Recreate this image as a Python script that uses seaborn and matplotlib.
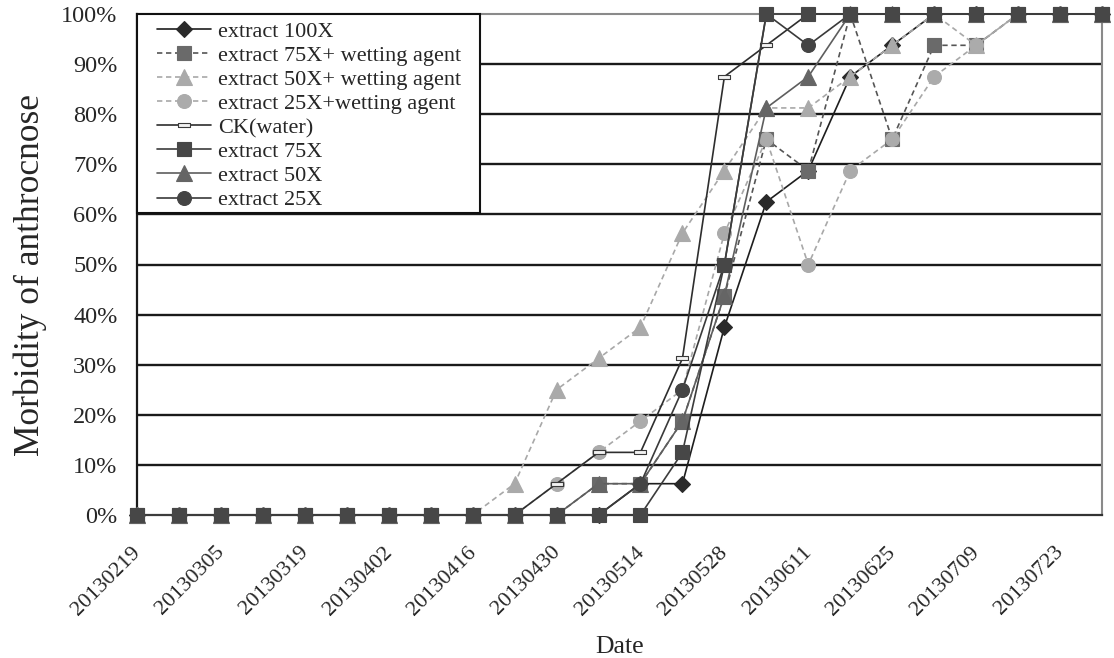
import matplotlib
matplotlib.use("Agg")
import matplotlib.pyplot as plt
import matplotlib.transforms as mtransforms
from matplotlib.patches import Rectangle
import seaborn as sns

# Weekly sampling dates
dates = ["20130219", "20130226", "20130305", "20130312", "20130319", "20130326",
         "20130402", "20130409", "20130416", "20130423", "20130430", "20130507",
         "20130514", "20130521", "20130528", "20130604", "20130611", "20130618",
         "20130625", "20130702", "20130709", "20130716", "20130723", "20130730"]

series_names = ["extract 100X", "extract 75X+ wetting agent", "extract 50X+ wetting agent",
                "extract 25X+wetting agent", "CK(water)", "extract 75X", "extract 50X",
                "extract 25X"]

# Morbidity (%) per treatment
ext100 = [0, 0, 0, 0, 0, 0, 0, 0, 0, 0, 0, 0, 6.25, 6.25, 37.5, 62.5, 68.75, 87.5,
          93.75, 100, 100, 100, 100, 100]
ext75_wet = [0, 0, 0, 0, 0, 0, 0, 0, 0, 0, 0, 6.25, 6.25, 18.75, 43.75, 75, 68.75, 100,
             75, 93.75, 93.75, 100, 100, 100]
ext50_wet = [0, 0, 0, 0, 0, 0, 0, 0, 0, 6.25, 25, 31.25, 37.5, 56.25, 68.75, 81.25, 81.25,
             87.5, 93.75, 100, 93.75, 100, 100, 100]
ext25_wet = [0, 0, 0, 0, 0, 0, 0, 0, 0, 0, 6.25, 12.5, 18.75, 25, 56.25, 75, 50, 68.75,
             75, 87.5, 93.75, 100, 100, 100]
ck_water = [0, 0, 0, 0, 0, 0, 0, 0, 0, 0, 6.25, 12.5, 12.5, 31.25, 87.5, 93.75, 100, 100,
            100, 100, 100, 100, 100, 100]
ext75 = [0, 0, 0, 0, 0, 0, 0, 0, 0, 0, 0, 0, 0, 12.5, 50, 100, 100, 100, 100, 100, 100,
         100, 100, 100]
ext50 = [0, 0, 0, 0, 0, 0, 0, 0, 0, 0, 0, 6.25, 6.25, 18.75, 43.75, 81.25, 87.5, 100,
         100, 100, 100, 100, 100, 100]
ext25 = [0, 0, 0, 0, 0, 0, 0, 0, 0, 0, 0, 0, 6.25, 25, 50, 100, 93.75, 100, 100, 100,
         100, 100, 100, 100]

all_values = [ext100, ext75_wet, ext50_wet, ext25_wet, ck_water, ext75, ext50, ext25]

sns.set_style("white")
plt.rcParams["font.family"] = ["Liberation Serif", "DejaVu Serif"]

DASH = (0, (3.2, 2.2))
rect_marker = [(-1.0, -0.38), (1.0, -0.38), (1.0, 0.38), (-1.0, 0.38), (-1.0, -0.38)]

styles = [
    dict(color="#1e1e1e", linestyle="-", marker="D", markersize=8,
         markerfacecolor="#2a2a2a", markeredgecolor="#2a2a2a", zorder=3),
    dict(color="#555555", linestyle=DASH, marker="s", markersize=10,
         markerfacecolor="#6a6a6a", markeredgecolor="#6a6a6a", zorder=3),
    dict(color="#a8a8a8", linestyle=DASH, marker="^", markersize=11,
         markerfacecolor="#aaaaaa", markeredgecolor="#aaaaaa", zorder=3),
    dict(color="#a8a8a8", linestyle=DASH, marker="o", markersize=10,
         markerfacecolor="#ababab", markeredgecolor="#ababab", zorder=3),
    dict(color="#2e2e2e", linestyle="-", marker=rect_marker, markersize=9,
         markerfacecolor="#f2f2f2", markeredgecolor="#3a3a3a", zorder=3),
    dict(color="#3c3c3c", linestyle="-", marker="s", markersize=10,
         markerfacecolor="#474747", markeredgecolor="#474747", zorder=5),
    dict(color="#5e5e5e", linestyle="-", marker="^", markersize=11,
         markerfacecolor="#656565", markeredgecolor="#656565", zorder=3),
    dict(color="#3a3a3a", linestyle="-", marker="o", markersize=10,
         markerfacecolor="#444444", markeredgecolor="#444444", zorder=4),
]

W, H = 1114, 658
fig = plt.figure(figsize=(W / 100, H / 100), dpi=100)
ax_left, ax_right, ax_top, ax_bottom = 137, 1102, 14, 515
ax = fig.add_axes([ax_left / W, 1 - ax_bottom / H, (ax_right - ax_left) / W,
                   (ax_bottom - ax_top) / H])
ax_w, ax_h = ax_right - ax_left, ax_bottom - ax_top

positions = list(range(len(dates)))
for name, vals, st in zip(series_names, all_values, styles):
    sns.lineplot(x=positions, y=vals, ax=ax, label=name, linewidth=1.2,
                 markeredgewidth=0.8, clip_on=False, **st)

ax.set_xlim(0, len(dates) - 1)
ax.set_ylim(0, 100)

# Y axis: percent ticks with dark horizontal gridlines
yticks = list(range(0, 101, 10))
ax.set_yticks(yticks)
ax.set_yticklabels([f"{v}%" for v in yticks], fontsize=17.5)
ax.tick_params(axis="y", length=0, pad=14)
ax.yaxis.grid(True, color="#1a1a1a", linewidth=1.7)
ax.set_axisbelow(True)
glines = ax.get_ygridlines()
glines[0].set_visible(False)
glines[-1].set_visible(False)

# X axis: a tick for every week, labelled every second week
ax.set_xticks(positions)
ax.set_xticklabels([d if i % 2 == 0 else "" for i, d in enumerate(dates)],
                   rotation=45, ha="right", va="top", rotation_mode="anchor",
                   fontsize=16)
ax.tick_params(axis="x", direction="in", length=5, width=1.2, color="#222222", pad=20)
shift = mtransforms.ScaledTranslation(-6 / 100, 0, fig.dpi_scale_trans)
for lbl in ax.get_xticklabels():
    lbl.set_transform(lbl.get_transform() + shift)

for side, col, lw in [("left", "#1a1a1a", 1.6), ("bottom", "#333333", 1.6),
                      ("top", "#8a8a8a", 1.5), ("right", "#8a8a8a", 1.5)]:
    ax.spines[side].set_visible(True)
    ax.spines[side].set_color(col)
    ax.spines[side].set_linewidth(lw)

ax.set_xlabel("Date", fontsize=18.5)
ax.xaxis.set_label_coords(0.5, (ax_bottom - 636) / ax_h)
ax.set_ylabel("Morbidity of anthrocnose", fontsize=25.5)
ax.yaxis.set_label_coords((47 - ax_left) / ax_w, (ax_bottom - 275) / ax_h)

# Legend box in the upper-left corner of the plot area
box_w = (480 - ax_left) / ax_w
box_h = (213 - ax_top) / ax_h
ax.add_patch(Rectangle((0, 1 - box_h), box_w, box_h, transform=ax.transAxes,
                       facecolor="white", edgecolor="#111111", linewidth=1.5,
                       zorder=8, clip_on=False))
leg = ax.legend(loc="upper left",
                bbox_to_anchor=(157 / W, 1 - 21 / H), bbox_transform=fig.transFigure,
                borderaxespad=0, borderpad=0, frameon=False,
                fontsize=16, handlelength=2.45, handletextpad=0.28,
                labelspacing=0.16)
leg.set_zorder(10)

fig.savefig("out.png", dpi=100)
